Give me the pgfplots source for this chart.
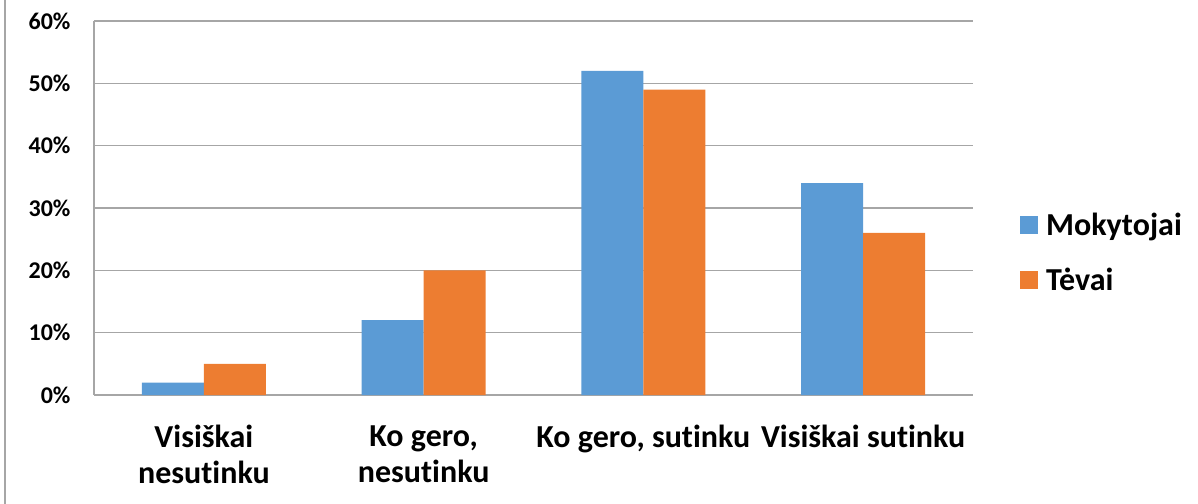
\documentclass[border=0pt]{standalone}
\usepackage{fontspec}
\setmainfont{Carlito}[Ligatures=NoCommon]
\usepackage{pgfplots}
\pgfplotsset{compat=1.18}
\definecolor{cblue}{HTML}{5B9BD5}
\definecolor{corange}{HTML}{ED7D31}
\definecolor{gridc}{HTML}{A6A6A6}
\begin{document}
\begin{tikzpicture}[x=1bp,y=1bp]
\path[use as bounding box] (-94bp,-109bp) rectangle (1104bp,395bp);
\draw[gridc, line width=1.2bp] (-89bp,-109bp) -- (-89bp,395bp);
\begin{axis}[
  at={(0,0)}, anchor=south west,
  scale only axis,
  width=879bp, height=374bp,
  ybar=0pt, bar width=62bp,
  xmin=-0.5, xmax=3.5,
  ymin=0, ymax=60,
  xtick={0,1,2,3},
  xticklabels={{Visiškai\\nesutinku},{Ko gero,\\nesutinku},{Ko gero, sutinku},{Visiškai sutinku}},
  ytick={0,10,...,60},
  yticklabel={\pgfmathprintnumber{\tick}\%},
  /pgf/number format/assume math mode=true,
  major tick length=0pt,
  axis lines*=left,
  axis line style={gridc, line width=1.2bp, -},
  ymajorgrids, grid style={gridc, line width=1.2bp},
  xticklabel style={font=\fontsize{32bp}{36bp}\selectfont\bfseries, align=center, yshift=-27bp},
  yticklabel style={font=\fontsize{24bp}{28bp}\selectfont\bfseries, xshift=-20bp},
  legend style={at={(1.05,0.381)}, anchor=west, draw=none, fill=none,
    font=\fontsize{32bp}{36bp}\selectfont\bfseries, row sep=27bp,
    legend cell align=left, nodes={inner xsep=8bp}},
  legend image code/.code={\fill[#1] (0bp,-9bp) rectangle (18bp,9bp);},
]
\addplot[fill=cblue, draw=none] coordinates {(0,2) (1,12) (2,52) (3,34)};
\addplot[fill=corange, draw=none] coordinates {(0,5) (1,20) (2,49) (3,26)};
\legend{Mokytojai, Tėvai}
\end{axis}
\end{tikzpicture}
\end{document}
